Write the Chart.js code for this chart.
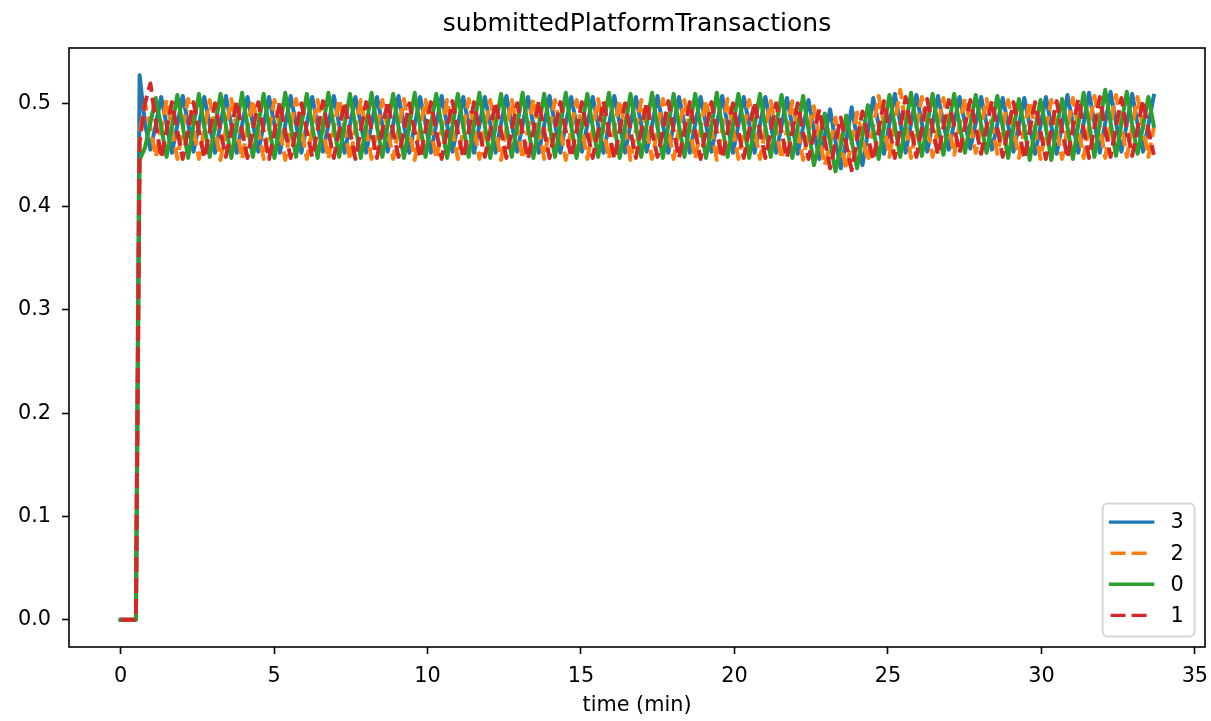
<!DOCTYPE html>
<html>
<head>
<meta charset="utf-8">
<script src="https://cdn.jsdelivr.net/npm/chart.js@4.4.0/dist/chart.umd.min.js"></script>
<style>
  html, body { margin: 0; padding: 0; background: #fff; }
  canvas { display: block; }
</style>
</head>
<body>
<canvas id="chart" width="1211" height="721"></canvas>
<script>
// submittedPlatformTransactions per platform, sampled every ~10.5 s
const seriesLabels = ['3', '2', '0', '1'];
const leadTime = [0, 0.50];          // minutes, before the first sample
const SAMPLE_START = 0.62;           // minutes
const SAMPLE_STEP = 0.17575;         // minutes between samples
const xTicks = [0, 5, 10, 15, 20, 25, 30, 35];
const yTicks = [0.0, 0.1, 0.2, 0.3, 0.4, 0.5];

// platform 3
const s3 = [
  0, 0,
  0.527, 0.480, 0.455, 0.479,  0.506, 0.479, 0.452, 0.479,
  0.507, 0.480, 0.453, 0.479,  0.506, 0.479, 0.452, 0.480,
  0.507, 0.479, 0.452, 0.479,  0.506, 0.480, 0.453, 0.479,
  0.506, 0.479, 0.452, 0.479,  0.507, 0.480, 0.452, 0.480,
  0.506, 0.479, 0.453, 0.479,  0.507, 0.479, 0.452, 0.479,
  0.506, 0.480, 0.452, 0.480,  0.506, 0.479, 0.453, 0.479,
  0.507, 0.479, 0.452, 0.479,  0.506, 0.480, 0.452, 0.480,
  0.507, 0.479, 0.453, 0.479,  0.506, 0.479, 0.452, 0.479,
  0.506, 0.480, 0.452, 0.480,  0.507, 0.479, 0.453, 0.479,
  0.506, 0.479, 0.452, 0.479,  0.507, 0.480, 0.452, 0.480,
  0.506, 0.479, 0.453, 0.479,  0.506, 0.479, 0.452, 0.479,
  0.507, 0.480, 0.452, 0.480,  0.506, 0.479, 0.453, 0.479,
  0.507, 0.479, 0.452, 0.479,  0.506, 0.480, 0.452, 0.480,
  0.506, 0.479, 0.453, 0.479,  0.507, 0.479, 0.452, 0.479,
  0.506, 0.480, 0.452, 0.479,  0.506, 0.479, 0.452, 0.478,
  0.505, 0.478, 0.451, 0.477,  0.503, 0.474, 0.446, 0.468,
  0.494, 0.463, 0.437, 0.464,  0.496, 0.466, 0.440, 0.472,
  0.505, 0.479, 0.451, 0.480,  0.509, 0.481, 0.452, 0.480,
  0.508, 0.481, 0.453, 0.480,  0.507, 0.481, 0.455, 0.481,
  0.506, 0.481, 0.456, 0.481,  0.506, 0.480, 0.455, 0.480,
  0.505, 0.479, 0.453, 0.479,  0.505, 0.478, 0.451, 0.478,
  0.506, 0.478, 0.451, 0.479,  0.508, 0.480, 0.452, 0.481,
  0.510, 0.481, 0.452, 0.481,  0.511, 0.481, 0.453, 0.480,
  0.509, 0.480, 0.453, 0.479,  0.507
];

// platform 2
const s2 = [
  0, 0,
  0.470, 0.500, 0.476, 0.448,  0.475, 0.503, 0.474, 0.446,
  0.476, 0.504, 0.475, 0.446,  0.475, 0.503, 0.474, 0.445,
  0.475, 0.504, 0.475, 0.446,  0.476, 0.503, 0.474, 0.446,
  0.475, 0.503, 0.475, 0.445,  0.476, 0.504, 0.474, 0.446,
  0.475, 0.503, 0.474, 0.446,  0.475, 0.504, 0.475, 0.445,
  0.476, 0.503, 0.474, 0.446,  0.475, 0.503, 0.475, 0.446,
  0.475, 0.504, 0.474, 0.445,  0.476, 0.503, 0.475, 0.446,
  0.475, 0.503, 0.474, 0.446,  0.475, 0.504, 0.475, 0.446,
  0.476, 0.503, 0.474, 0.445,  0.475, 0.503, 0.475, 0.446,
  0.475, 0.504, 0.474, 0.446,  0.476, 0.503, 0.474, 0.445,
  0.475, 0.503, 0.475, 0.446,  0.475, 0.504, 0.474, 0.446,
  0.476, 0.503, 0.475, 0.445,  0.475, 0.503, 0.474, 0.446,
  0.475, 0.504, 0.475, 0.446,  0.476, 0.503, 0.474, 0.446,
  0.475, 0.503, 0.474, 0.445,  0.475, 0.504, 0.475, 0.446,
  0.475, 0.503, 0.474, 0.446,  0.475, 0.502, 0.474, 0.446,
  0.474, 0.502, 0.473, 0.445,  0.472, 0.497, 0.466, 0.440,
  0.460, 0.486, 0.460, 0.436,  0.462, 0.491, 0.467, 0.444,
  0.477, 0.507, 0.478, 0.448,  0.481, 0.513, 0.480, 0.447,
  0.477, 0.506, 0.477, 0.448,  0.478, 0.505, 0.478, 0.450,
  0.479, 0.505, 0.479, 0.452,  0.478, 0.504, 0.478, 0.451,
  0.476, 0.503, 0.475, 0.447,  0.475, 0.502, 0.474, 0.446,
  0.475, 0.503, 0.475, 0.446,  0.476, 0.505, 0.476, 0.447,
  0.478, 0.507, 0.478, 0.447,  0.479, 0.508, 0.478, 0.448,
  0.477, 0.506, 0.476, 0.448,  0.476
];

// platform 0
const s0 = [
  0, 0,
  0.445, 0.457, 0.481, 0.505,  0.477, 0.448, 0.478, 0.508,
  0.478, 0.447, 0.479, 0.509,  0.477, 0.448, 0.478, 0.509,
  0.478, 0.447, 0.478, 0.510,  0.478, 0.448, 0.479, 0.509,
  0.477, 0.447, 0.478, 0.510,  0.478, 0.448, 0.479, 0.509,
  0.478, 0.447, 0.478, 0.510,  0.477, 0.448, 0.479, 0.509,
  0.478, 0.447, 0.478, 0.510,  0.478, 0.448, 0.479, 0.509,
  0.477, 0.447, 0.478, 0.510,  0.478, 0.448, 0.479, 0.509,
  0.478, 0.447, 0.478, 0.509,  0.477, 0.448, 0.479, 0.510,
  0.478, 0.447, 0.478, 0.509,  0.478, 0.448, 0.479, 0.510,
  0.477, 0.447, 0.478, 0.509,  0.478, 0.448, 0.479, 0.510,
  0.478, 0.447, 0.478, 0.509,  0.477, 0.448, 0.479, 0.510,
  0.478, 0.447, 0.478, 0.509,  0.478, 0.448, 0.479, 0.510,
  0.477, 0.447, 0.478, 0.509,  0.478, 0.448, 0.479, 0.509,
  0.478, 0.447, 0.478, 0.510,  0.477, 0.448, 0.479, 0.509,
  0.478, 0.447, 0.478, 0.509,  0.477, 0.448, 0.479, 0.508,
  0.477, 0.447, 0.477, 0.507,  0.474, 0.440, 0.462, 0.490,
  0.462, 0.434, 0.459, 0.488,  0.463, 0.437, 0.468, 0.498,
  0.475, 0.446, 0.477, 0.508,  0.478, 0.448, 0.479, 0.510,
  0.478, 0.449, 0.479, 0.509,  0.478, 0.450, 0.480, 0.509,
  0.479, 0.452, 0.480, 0.508,  0.479, 0.452, 0.479, 0.507,
  0.477, 0.447, 0.476, 0.504,  0.476, 0.445, 0.475, 0.503,
  0.476, 0.445, 0.476, 0.504,  0.477, 0.446, 0.479, 0.510,
  0.480, 0.448, 0.481, 0.513,  0.481, 0.449, 0.480, 0.511,
  0.479, 0.451, 0.477, 0.506,  0.478
];

// platform 1
const s1 = [
  0, 0,
  0.462, 0.500, 0.519, 0.482,  0.447, 0.474, 0.501, 0.473,
  0.446, 0.474, 0.501, 0.473,  0.447, 0.473, 0.500, 0.472,
  0.448, 0.474, 0.502, 0.473,  0.447, 0.474, 0.501, 0.472,
  0.446, 0.473, 0.501, 0.473,  0.447, 0.474, 0.500, 0.473,
  0.448, 0.474, 0.502, 0.472,  0.447, 0.473, 0.501, 0.473,
  0.446, 0.474, 0.501, 0.473,  0.447, 0.474, 0.502, 0.472,
  0.448, 0.473, 0.500, 0.473,  0.447, 0.474, 0.501, 0.473,
  0.446, 0.474, 0.502, 0.472,  0.447, 0.473, 0.501, 0.473,
  0.448, 0.474, 0.501, 0.473,  0.447, 0.474, 0.500, 0.472,
  0.446, 0.473, 0.502, 0.473,  0.447, 0.474, 0.501, 0.473,
  0.448, 0.474, 0.501, 0.472,  0.447, 0.473, 0.502, 0.473,
  0.446, 0.474, 0.500, 0.473,  0.447, 0.474, 0.501, 0.472,
  0.448, 0.473, 0.502, 0.473,  0.447, 0.474, 0.501, 0.473,
  0.446, 0.474, 0.501, 0.472,  0.447, 0.473, 0.500, 0.473,
  0.447, 0.474, 0.501, 0.473,  0.447, 0.473, 0.500, 0.472,
  0.447, 0.473, 0.500, 0.472,  0.446, 0.470, 0.494, 0.465,
  0.437, 0.462, 0.486, 0.460,  0.435, 0.464, 0.492, 0.467,
  0.445, 0.474, 0.502, 0.475,  0.447, 0.476, 0.506, 0.476,
  0.448, 0.476, 0.504, 0.476,  0.450, 0.477, 0.503, 0.477,
  0.452, 0.478, 0.503, 0.477,  0.451, 0.477, 0.502, 0.476,
  0.448, 0.475, 0.501, 0.474,  0.446, 0.474, 0.501, 0.473,
  0.446, 0.475, 0.502, 0.474,  0.447, 0.476, 0.504, 0.475,
  0.447, 0.477, 0.506, 0.476,  0.448, 0.477, 0.505, 0.475,
  0.449, 0.476, 0.503, 0.474,  0.450
];

const FONT = 'DejaVu Sans';
Chart.defaults.font.family = FONT;
Chart.defaults.color = '#000';

// sample clock: two lead-in points, then one sample every SAMPLE_STEP
const nSamples = Math.max(s3.length, s2.length, s0.length, s1.length) - leadTime.length;
const time = leadTime.slice();
for (let i = 0; i < nSamples; i++) time.push(+(SAMPLE_START + i * SAMPLE_STEP).toFixed(5));

function toPoints(values) {
    return values.map((v, i) => ({ x: time[i], y: v }));
}

const DASH = [15, 6];
const LINE_W = 4;
const colors = ['#1f77b4', '#ff7f0e', '#2ca02c', '#d62728'];
const seriesData = [s3, s2, s0, s1];
const dashed = [false, true, false, true];

const datasets = seriesLabels.map((label, k) => ({
    label: label,
    data: toPoints(seriesData[k]),
    borderColor: colors[k],
    backgroundColor: colors[k],
    borderWidth: LINE_W,
    borderDash: dashed[k] ? DASH : [],
    borderJoinStyle: 'round',
    borderCapStyle: dashed[k] ? 'butt' : 'square',
    pointRadius: 0,
    tension: 0,
    fill: false,
    order: seriesLabels.length - k   // first plotted at the bottom, like matplotlib
}));

// frame on all four sides + matplotlib-style legend in the lower right
const framePlugin = {
    id: 'frameAndLegend',
    afterDraw(chart) {
        const ctx = chart.ctx;
        const ca = chart.chartArea;
        ctx.save();
        ctx.strokeStyle = '#000';
        ctx.lineWidth = 1.6;
        ctx.strokeRect(ca.left, ca.top, ca.right - ca.left, ca.bottom - ca.top);

        // legend box
        const boxW = 92, boxH = 133, gap = 10.4;
        const bx = ca.right - gap - boxW;
        const by = ca.bottom - gap - boxH;
        ctx.beginPath();
        if (ctx.roundRect) ctx.roundRect(bx, by, boxW, boxH, 5);
        else ctx.rect(bx, by, boxW, boxH);
        ctx.fillStyle = 'rgba(255,255,255,0.8)';
        ctx.fill();
        ctx.strokeStyle = 'rgba(204,204,204,0.8)';
        ctx.lineWidth = 2;
        ctx.stroke();

        const rowTop = by + 18.5, rowH = 31.1;
        const hx0 = bx + 8, hx1 = hx0 + 42, tx = hx1 + 18;
        ctx.font = '20.8px "' + FONT + '"';
        ctx.textBaseline = 'middle';
        ctx.textAlign = 'left';
        chart.data.datasets.forEach((ds, k) => {
            const y = rowTop + k * rowH;
            ctx.beginPath();
            ctx.setLineDash(ds.borderDash || []);
            ctx.lineCap = ds.borderCapStyle;
            ctx.strokeStyle = ds.borderColor;
            ctx.lineWidth = 3.4;
            ctx.moveTo(hx0, y);
            ctx.lineTo(hx1, y);
            ctx.stroke();
            ctx.setLineDash([]);
            ctx.fillStyle = '#000';
            ctx.fillText(ds.label, tx, y + 1);
        });
        ctx.restore();
    }
};

new Chart(document.getElementById('chart'), {
    type: 'line',
    data: { datasets: datasets },
    plugins: [framePlugin],
    options: {
        responsive: false,
        animation: false,
        devicePixelRatio: 1,
        layout: { padding: { left: 0, right: 6, top: 0, bottom: 0 } },
        plugins: {
            legend: { display: false },
            tooltip: { enabled: false },
            title: {
                display: true,
                text: 'submittedPlatformTransactions',
                color: '#000',
                fullSize: false,
                font: { family: FONT, size: 25, weight: 'normal' },
                padding: { top: 9, bottom: 9 }
            }
        },
        scales: {
            x: {
                type: 'linear',
                min: -1.68,
                max: 35.33,
                afterBuildTicks: s => { s.ticks = xTicks.map(v => ({ value: v })); },
                afterFit: s => { s.height = 74; s.paddingLeft = 0; s.paddingRight = 0; },
                ticks: {
                    color: '#000',
                    font: { family: FONT, size: 20.8 },
                    padding: 10,
                    maxRotation: 0,
                    autoSkip: false,
                    callback: v => String(v)
                },
                grid: { drawOnChartArea: false, drawTicks: true, tickLength: 7, tickWidth: 1.6, tickColor: '#000' },
                border: { display: false },
                title: {
                    display: true,
                    text: 'time (min)',
                    color: '#000',
                    font: { family: FONT, size: 20.8 },
                    padding: { top: 2.5, bottom: 2.5 }
                }
            },
            y: {
                type: 'linear',
                min: -0.0264,
                max: 0.5534,
                afterBuildTicks: s => { s.ticks = yTicks.map(v => ({ value: v })); },
                afterFit: s => { s.width = 69; s.paddingTop = 0; s.paddingBottom = 0; },
                ticks: {
                    color: '#000',
                    font: { family: FONT, size: 20.8 },
                    padding: 11,
                    callback: v => Number(v).toFixed(1)
                },
                grid: { drawOnChartArea: false, drawTicks: true, tickLength: 7, tickWidth: 1.6, tickColor: '#000' },
                border: { display: false }
            }
        }
    }
});
</script>
</body>
</html>
